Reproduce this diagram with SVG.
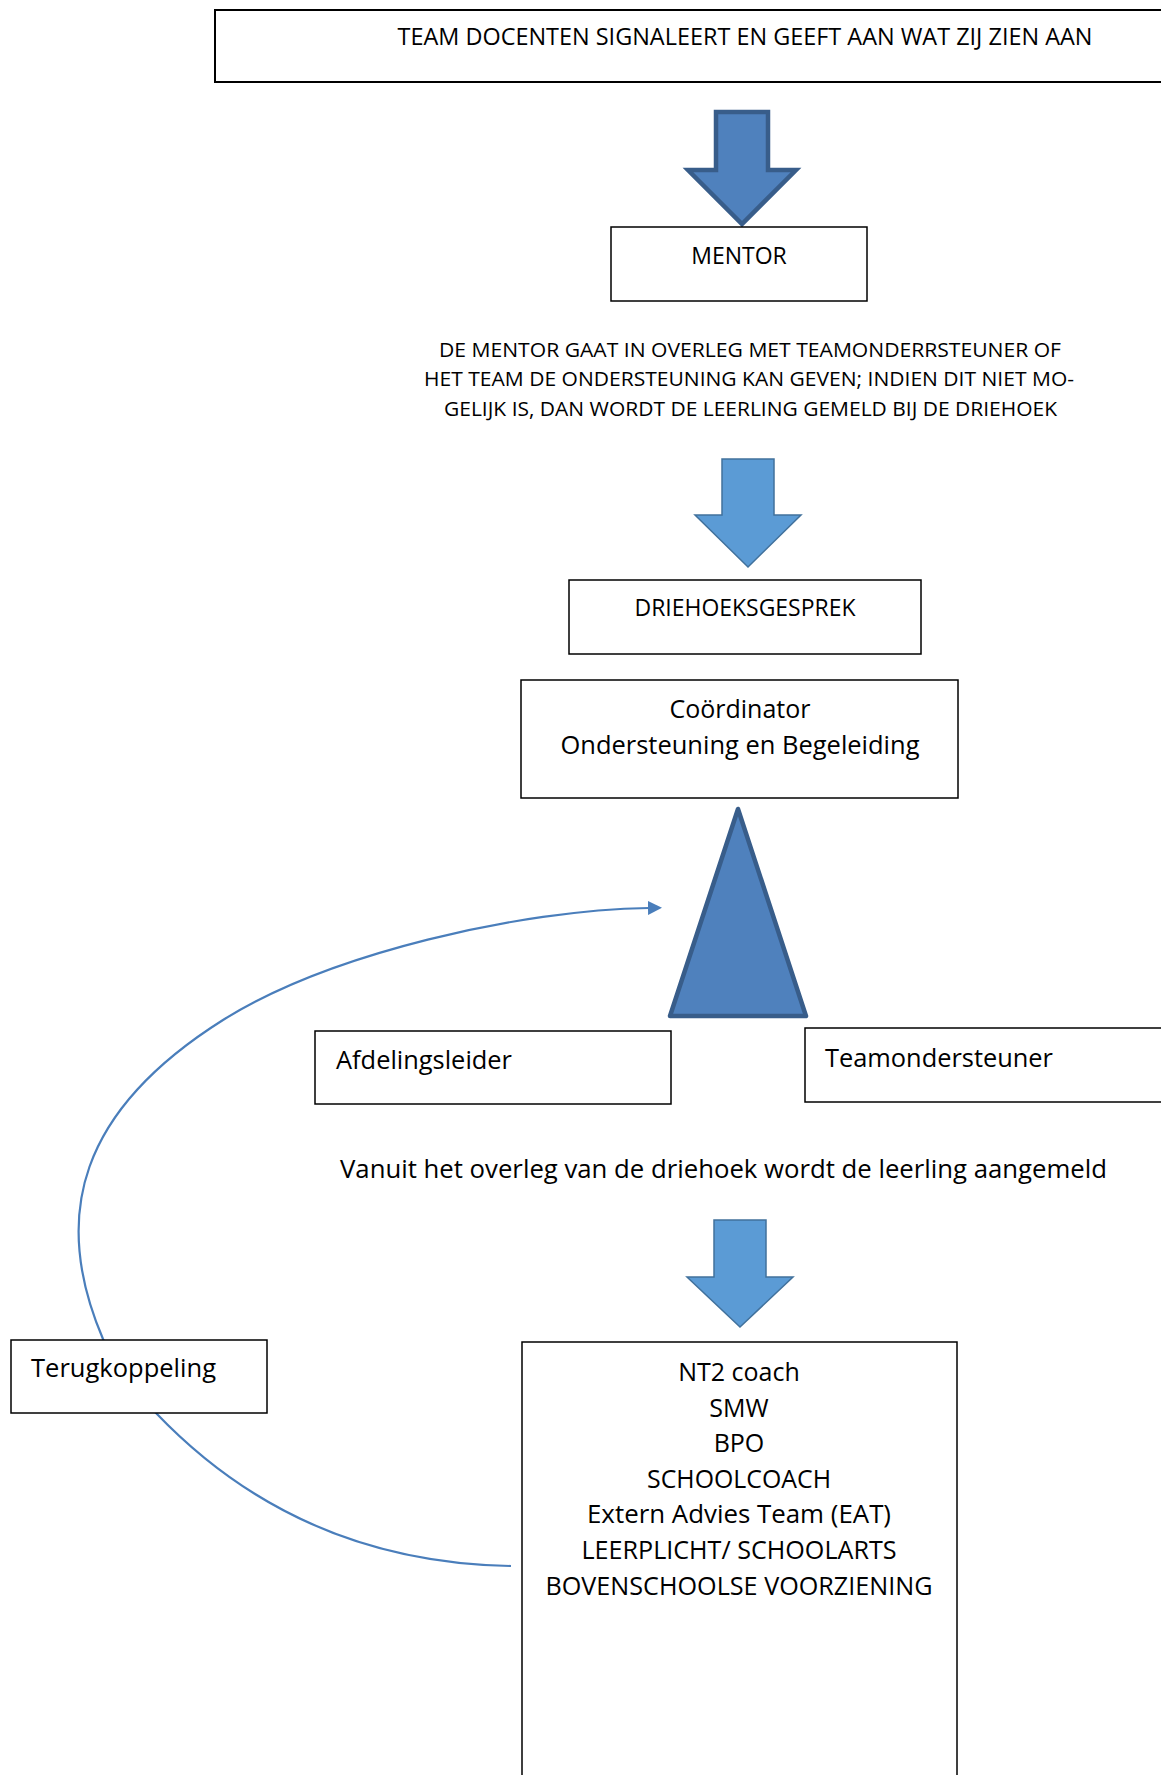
<svg xmlns="http://www.w3.org/2000/svg" width="1161" height="1775" viewBox="0 0 1161 1775">
<style>
.box{fill:#fff;stroke:#000;stroke-width:1.5}
.t{font-family:"Open Sans","Liberation Sans",sans-serif;fill:#000}
.c{text-anchor:middle}
.arrowA{fill:#4f81bd;stroke:#385d8a;stroke-width:4.5;stroke-linejoin:miter}
.arrowB{fill:#5b9bd5;stroke:#41719c;stroke-width:1.5}
.conn{fill:none;stroke:#4a7ebb;stroke-width:2.2}
</style>
<defs>
<marker id="ah" markerUnits="userSpaceOnUse" markerWidth="16" markerHeight="16" refX="1" refY="7" orient="auto">
<path d="M0,0 L14,7 L0,14 z" fill="#4a7ebb"/>
</marker>
</defs>
<rect width="1161" height="1775" fill="#fff"/>
<g id="connectors">
<path class="conn" d="M511,1566 C330,1563 220,1480 156,1413 C135,1391 118,1370 103,1339 C50,1215 80,1110 223,1020 C330,953 520,910 649,908" marker-end="url(#ah)"/>
<path id="arrow1" class="arrowA" d="M716,112 L768,112 L768,170 L796,170 L742,224 L688,170 L716,170 Z"/>
<path id="arrow2" class="arrowB" d="M722,459 L774,459 L774,515 L801,515 L748,567 L695,515 L722,515 Z"/>
<path id="arrow3" class="arrowB" d="M714,1220 L766,1220 L766,1277 L793,1277 L740,1327 L687,1277 L714,1277 Z"/>
</g>
<g id="node-team">
<rect class="box" x="215" y="10" width="960" height="72" style="stroke-width:2"/>
<text class="t c" x="745" y="45" font-size="23" textLength="695" lengthAdjust="spacingAndGlyphs">TEAM DOCENTEN SIGNALEERT EN GEEFT AAN WAT ZIJ ZIEN AAN</text>
</g>
<g id="node-mentor">
<rect class="box" x="611" y="227" width="256" height="74"/>
<text class="t c" x="739" y="264" font-size="23">MENTOR</text>
</g>
<g id="node-para">
<text class="t c" x="750" y="357" font-size="20.5" textLength="622" lengthAdjust="spacingAndGlyphs">DE MENTOR GAAT IN OVERLEG MET TEAMONDERRSTEUNER OF</text>
<text class="t c" x="749" y="386" font-size="20.5" textLength="650" lengthAdjust="spacingAndGlyphs">HET TEAM DE ONDERSTEUNING KAN GEVEN; INDIEN DIT NIET MO-</text>
<text class="t c" x="750.5" y="416" font-size="20.5" textLength="613" lengthAdjust="spacingAndGlyphs">GELIJK IS, DAN WORDT DE LEERLING GEMELD BIJ DE DRIEHOEK</text>
</g>
<g id="node-driehoeksgesprek">
<rect class="box" x="569" y="580" width="352" height="74"/>
<text class="t c" x="745" y="616" font-size="23" textLength="221" lengthAdjust="spacingAndGlyphs">DRIEHOEKSGESPREK</text>
</g>
<g id="node-coordinator">
<rect class="box" x="521" y="680" width="437" height="118"/>
<text class="t c" x="740" y="718" font-size="25">Coördinator</text>
<text class="t c" x="740" y="754" font-size="25" textLength="359" lengthAdjust="spacingAndGlyphs">Ondersteuning en Begeleiding</text>
</g>
<g id="node-triangle">
<polygon points="738,809 806,1016 670,1016" fill="#4f81bd" stroke="#385d8a" stroke-width="4.5" stroke-linejoin="round"/>
</g>
<g id="node-afdelingsleider">
<rect class="box" x="315" y="1031" width="356" height="73"/>
<text class="t" x="336" y="1069" font-size="25" textLength="176" lengthAdjust="spacingAndGlyphs">Afdelingsleider</text>
</g>
<g id="node-teamondersteuner">
<rect class="box" x="805" y="1028" width="370" height="74"/>
<text class="t" x="825" y="1067" font-size="25" textLength="228" lengthAdjust="spacingAndGlyphs">Teamondersteuner</text>
</g>
<g id="node-vanuit">
<text class="t" x="340" y="1178" font-size="25" textLength="767" lengthAdjust="spacingAndGlyphs">Vanuit het overleg van de driehoek wordt de leerling aangemeld</text>
</g>
<g id="node-terugkoppeling">
<rect class="box" x="11" y="1340" width="256" height="73"/>
<text class="t" x="31" y="1377" font-size="25" textLength="185" lengthAdjust="spacingAndGlyphs">Terugkoppeling</text>
</g>
<g id="node-voorzieningen">
<rect class="box" x="522" y="1342" width="435" height="460"/>
<text class="t c" x="739" y="1381" font-size="25">NT2 coach</text>
<text class="t c" x="739" y="1417" font-size="25">SMW</text>
<text class="t c" x="739" y="1452" font-size="25">BPO</text>
<text class="t c" x="739" y="1488" font-size="25" textLength="184" lengthAdjust="spacingAndGlyphs">SCHOOLCOACH</text>
<text class="t c" x="739" y="1523" font-size="25" textLength="304" lengthAdjust="spacingAndGlyphs">Extern Advies Team (EAT)</text>
<text class="t c" x="739" y="1559" font-size="25" textLength="315" lengthAdjust="spacingAndGlyphs">LEERPLICHT/ SCHOOLARTS</text>
<text class="t c" x="739" y="1595" font-size="25" textLength="387" lengthAdjust="spacingAndGlyphs">BOVENSCHOOLSE VOORZIENING</text>
</g>
</svg>
